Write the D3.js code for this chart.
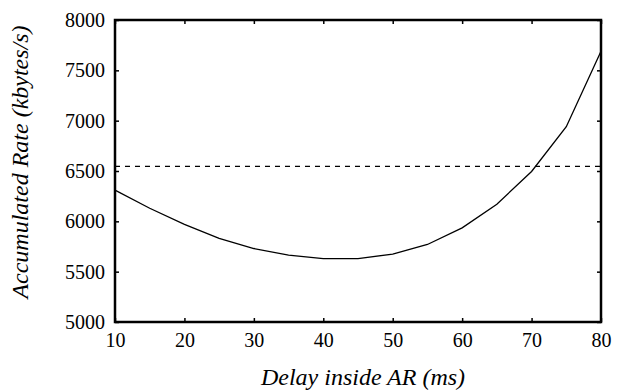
<!DOCTYPE html>
<html>
<head>
<meta charset="utf-8">
<script src="https://cdn.jsdelivr.net/npm/d3@7"></script>
<style>
  body { margin: 0; background: #fff; }
  svg { display: block; }
  svg text { font-family: 'Liberation Serif', Tinos, 'Nimbus Roman', 'DejaVu Serif', serif; }
</style>
</head>
<body>
<div id="chart"></div>
<script>
// Data
const delays = [10, 15, 20, 25, 30, 35, 40, 45, 50, 55, 60, 65, 70, 75, 80]
const rates = [6310, 6130, 5970, 5830, 5730, 5665, 5630, 5630, 5675, 5770, 5935, 6170, 6495, 6940, 7690]
const baseline = 6545
const xTicks = [10, 20, 30, 40, 50, 60, 70, 80]
const yTicks = [5000, 5500, 6000, 6500, 7000, 7500, 8000]

const width = 620
const height = 392
const margin = { top: 20, right: 19, bottom: 70, left: 115 }
const innerW = width - margin.left - margin.right
const innerH = height - margin.top - margin.bottom

const svg = d3
  .select('#chart')
  .append('svg')
  .attr('width', width)
  .attr('height', height)

const g = svg.append('g').attr('transform', `translate(${margin.left},${margin.top})`)

const x = d3.scaleLinear().domain([10, 80]).range([0, innerW])
const y = d3.scaleLinear().domain([5000, 8000]).range([innerH, 0])

// inner ticks on all four sides
const styleAxis = (sel) => {
  sel.attr('font-family', null)
  sel.select('.domain').remove()
  sel.selectAll('line').attr('stroke', '#000').attr('stroke-width', 1.5)
  sel.selectAll('text').attr('font-size', 20).attr('fill', '#000')
}

g.append('g')
  .attr('transform', `translate(0,${innerH})`)
  .call(d3.axisBottom(x).tickValues(xTicks).tickSize(-4).tickPadding(11))
  .call(styleAxis)

g.append('g')
  .call(d3.axisTop(x).tickValues(xTicks).tickSize(-4).tickFormat(''))
  .call(styleAxis)

g.append('g')
  .call(d3.axisLeft(y).tickValues(yTicks).tickSize(-4).tickPadding(10).tickFormat(d3.format('d')))
  .call(styleAxis)

g.append('g')
  .attr('transform', `translate(${innerW},0)`)
  .call(d3.axisRight(y).tickValues(yTicks).tickSize(-4).tickFormat(''))
  .call(styleAxis)

// frame
g.append('rect')
  .attr('width', innerW)
  .attr('height', innerH)
  .attr('fill', 'none')
  .attr('stroke', '#000')
  .attr('stroke-width', 2.5)

// dashed reference line
g.append('line')
  .attr('x1', 0)
  .attr('x2', innerW)
  .attr('y1', y(baseline))
  .attr('y2', y(baseline))
  .attr('stroke', '#000')
  .attr('stroke-width', 1.2)
  .attr('stroke-dasharray', '5,5')

const line = d3
  .line()
  .x((d, i) => x(delays[i]))
  .y((d) => y(d))

g.append('path')
  .datum(rates)
  .attr('d', line)
  .attr('fill', 'none')
  .attr('stroke', '#000')
  .attr('stroke-width', 1.3)

svg.append('text')
  .attr('x', 363)
  .attr('y', 385)
  .attr('text-anchor', 'middle')
  .attr('font-style', 'italic')
  .attr('font-size', 24)
  .text('Delay inside AR (ms)')

svg.append('text')
  .attr('transform', 'translate(28,162) rotate(-90)')
  .attr('text-anchor', 'middle')
  .attr('font-style', 'italic')
  .attr('font-size', 24)
  .text('Accumulated Rate (kbytes/s)')
</script>
</body>
</html>
